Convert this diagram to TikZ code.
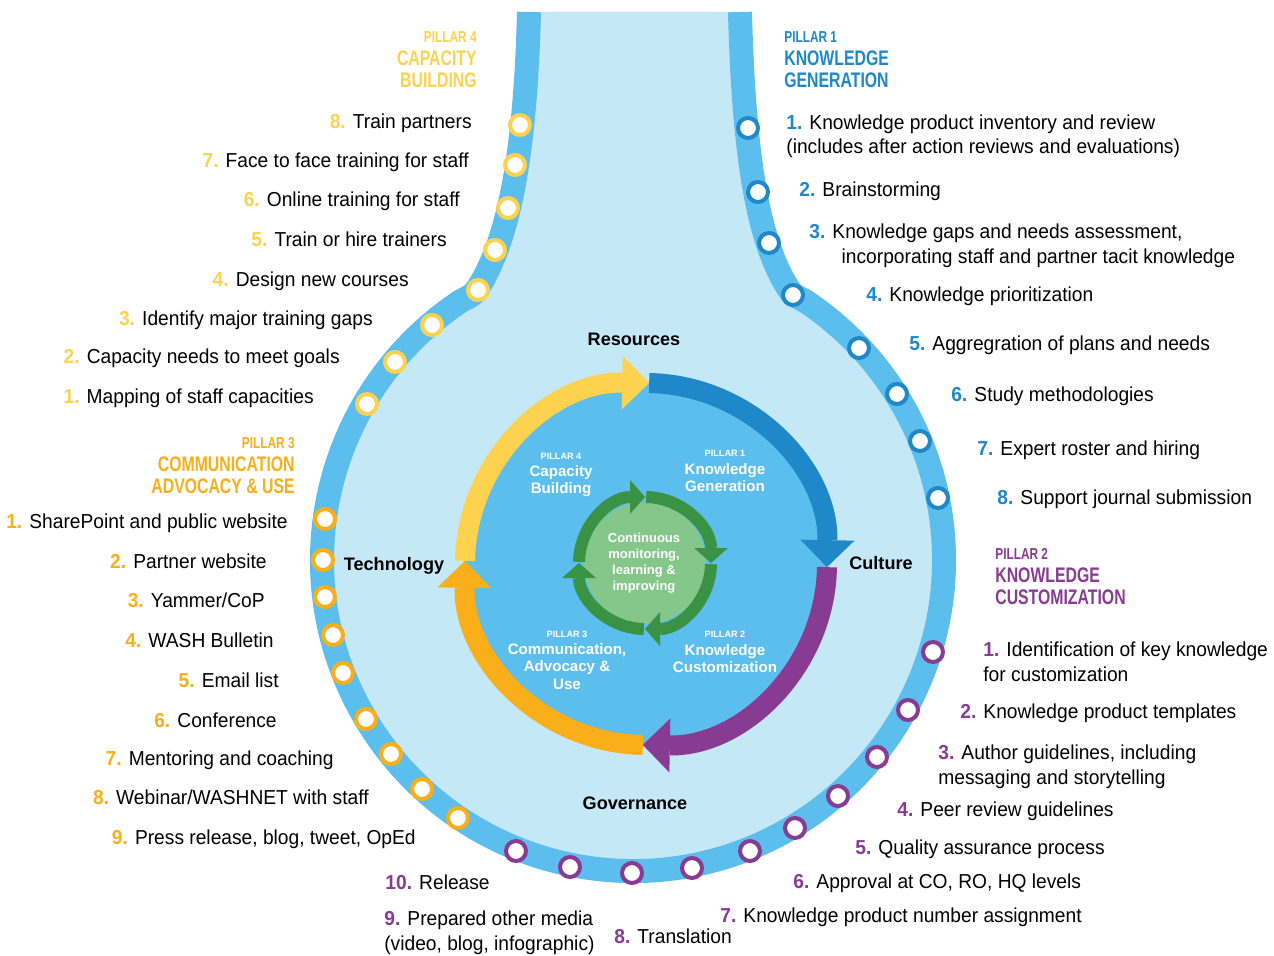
\documentclass[tikz,border=0pt]{standalone}
\usepackage{fontspec}
\setmainfont{Liberation Sans}[FakeStretch=0.95]
\newfontfamily\headfont{Liberation Sans}[FakeStretch=0.75]
\newfontfamily\ringfont{Liberation Sans}
\usetikzlibrary{arrows.meta}

\definecolor{tube}{RGB}{91,190,236}
\definecolor{inside}{RGB}{197,232,247}
\definecolor{kgblue}{RGB}{30,136,201}
\definecolor{cbyellow}{RGB}{253,210,78}
\definecolor{caorange}{RGB}{249,174,26}
\definecolor{kcpurple}{RGB}{135,59,146}
\definecolor{loopgreen}{RGB}{58,147,69}
\definecolor{loopfill}{RGB}{133,198,138}

\newcommand{\listno}[2]{\textcolor{#1}{\textbf{#2}}}

\tikzstyle{item} = [inner sep=0pt, align=left, font=\fontsize{11.5}{14.2}\selectfont]
\tikzstyle{head} = [inner sep=0pt, font=\headfont\bfseries\fontsize{12}{12.8}\selectfont]
\tikzstyle{station} = [circle, draw, fill=white, line width=0.08cm, minimum size=0.4cm, inner sep=0pt]
\tikzstyle{enabler} = [inner sep=0pt, font=\ringfont\bfseries\fontsize{10.3}{12}\selectfont]
\tikzstyle{pillar} = [inner sep=0pt, text=white, align=center, font=\ringfont\bfseries\fontsize{8.6}{9.9}\selectfont]
\tikzstyle{ring} = [line width=0.4cm, -{Triangle[length=0.54cm, width=1.08cm, line width=0pt]}]
\tikzstyle{loop} = [line width=0.24cm, loopgreen, -{Triangle[length=0.3cm, width=0.68cm, line width=0pt]}]

\begin{document}
\begin{tikzpicture}[x=0.02cm, y=-0.02cm]
    \useasboundingbox (0,0) rectangle (1274,956);
    \fill[white] (0,0) rectangle (1274,956);

    % Flask
    \fill[inside] (529,12) .. controls (525,170) and (505,245) .. (478,288)
        .. controls (472,297.5) and (466,297.5) .. (459.1,302.2)
        arc[start angle=236, end angle=-56, radius=311]
        .. controls (800,297.5) and (794,297.5) .. (788,288)
        .. controls (761,245) and (744,170) .. (740,12) -- cycle;
    \draw[tube, line width=0.48cm] (529,12) .. controls (525,170) and (505,245) .. (478,288)
        .. controls (472,297.5) and (466,297.5) .. (459.1,302.2)
        arc[start angle=236, end angle=-56, radius=311]
        .. controls (800,297.5) and (794,297.5) .. (788,288)
        .. controls (761,245) and (744,170) .. (740,12);

    % Stations
    \node (cbst1) [station, draw=cbyellow] at (367,404) {};
    \node (cbst2) [station, draw=cbyellow] at (395,362) {};
    \node (cbst3) [station, draw=cbyellow] at (432,325) {};
    \node (cbst4) [station, draw=cbyellow] at (478,290) {};
    \node (cbst5) [station, draw=cbyellow] at (495,250) {};
    \node (cbst6) [station, draw=cbyellow] at (508,208) {};
    \node (cbst7) [station, draw=cbyellow] at (515,165) {};
    \node (cbst8) [station, draw=cbyellow] at (520,125) {};

    \node (cast1) [station, draw=caorange] at (325,519) {};
    \node (cast2) [station, draw=caorange] at (323,560) {};
    \node (cast3) [station, draw=caorange] at (325,597) {};
    \node (cast4) [station, draw=caorange] at (333,635) {};
    \node (cast5) [station, draw=caorange] at (343,673) {};
    \node (cast6) [station, draw=caorange] at (366,719) {};
    \node (cast7) [station, draw=caorange] at (391,754) {};
    \node (cast8) [station, draw=caorange] at (422,789) {};
    \node (cast9) [station, draw=caorange] at (458,818) {};

    \node (kcst1) [station, draw=kcpurple] at (933,652) {};
    \node (kcst2) [station, draw=kcpurple] at (908,710) {};
    \node (kcst3) [station, draw=kcpurple] at (877,757) {};
    \node (kcst4) [station, draw=kcpurple] at (838,796) {};
    \node (kcst5) [station, draw=kcpurple] at (795,828) {};
    \node (kcst6) [station, draw=kcpurple] at (750,851) {};
    \node (kcst7) [station, draw=kcpurple] at (692,868) {};
    \node (kcst8) [station, draw=kcpurple] at (632,873) {};
    \node (kcst9) [station, draw=kcpurple] at (570,867) {};
    \node (kcst10) [station, draw=kcpurple] at (516,851) {};

    \node (kgst1) [station, draw=kgblue] at (748,128) {};
    \node (kgst2) [station, draw=kgblue] at (758,192) {};
    \node (kgst3) [station, draw=kgblue] at (769,243) {};
    \node (kgst4) [station, draw=kgblue] at (793,295) {};
    \node (kgst5) [station, draw=kgblue] at (859,348) {};
    \node (kgst6) [station, draw=kgblue] at (897,394) {};
    \node (kgst7) [station, draw=kgblue] at (920,441) {};
    \node (kgst8) [station, draw=kgblue] at (938,498) {};

    % Cycle
    \coordinate (ringc) at (646,564);
    \fill[tube] (ringc) circle (181);
    \draw[ring, cbyellow] (ringc) ++(181:181) arc[start angle=181, end angle=271, radius=181];
    \draw[ring, kgblue] (ringc) ++(271:181) arc[start angle=271, end angle=361, radius=181];
    \draw[ring, kcpurple] (ringc) ++(1:181) arc[start angle=1, end angle=91, radius=181];
    \draw[ring, caorange] (ringc) ++(91:181) arc[start angle=91, end angle=181, radius=181];

    \coordinate (loopc) at (645,563);
    \fill[loopfill] (loopc) circle (61);
    \draw[loop] (loopc) ++(181:66) arc[start angle=181, end angle=270, radius=66];
    \draw[loop] (loopc) ++(271:66) arc[start angle=271, end angle=360, radius=66];
    \draw[loop] (loopc) ++(1:66) arc[start angle=1, end angle=90, radius=66];
    \draw[loop] (loopc) ++(91:66) arc[start angle=91, end angle=180, radius=66];

    % Labels inside
    \node (resources) [enabler] at (634,339) {Resources};
    \node (technology) [enabler] at (394,566) {Technology};
    \node (culture) [enabler] at (881,563) {Culture};
    \node (governance) [enabler] at (635,803) {Governance};

    \node (cbin) [pillar] at (561,475) {{\fontsize{5.2}{6}\selectfont PILLAR 4}\\Capacity\\Building};
    \node (kgin) [pillar] at (725,471) {{\fontsize{5.2}{6}\selectfont PILLAR 1}\\Knowledge\\Generation};
    \node (cain) [pillar] at (567,660) {{\fontsize{5.2}{6}\selectfont PILLAR 3}\\Communication,\\Advocacy \&\\Use};
    \node (kcin) [pillar] at (725,652) {{\fontsize{5.2}{6}\selectfont PILLAR 2}\\Knowledge\\Customization};
    \node (looptext) [inner sep=0pt, text=white, align=center, font=\ringfont\bfseries\fontsize{7.4}{9}\selectfont] at (644,563) {Continuous\\monitoring,\\learning \&\\improving};

    % Pillar 4
    \node (cbhead) [head, text=cbyellow, align=right, anchor=base east] at (477,87.5) {{\fontsize{9}{12.8}\selectfont PILLAR 4}\\CAPACITY\\BUILDING};
    \node (cb8) [item, anchor=base east] at (472,129) {\listno{cbyellow}{8.} Train partners};
    \node (cb7) [item, anchor=base east] at (469,168) {\listno{cbyellow}{7.} Face to face training for staff};
    \node (cb6) [item, anchor=base east] at (460,207) {\listno{cbyellow}{6.} Online training for staff};
    \node (cb5) [item, anchor=base east] at (447,247) {\listno{cbyellow}{5.} Train or hire trainers};
    \node (cb4) [item, anchor=base east] at (409,286) {\listno{cbyellow}{4.} Design new courses};
    \node (cb3) [item, anchor=base east] at (373,325) {\listno{cbyellow}{3.} Identify major training gaps};
    \node (cb2) [item, anchor=base east] at (340,363) {\listno{cbyellow}{2.} Capacity needs to meet goals};
    \node (cb1) [item, anchor=base east] at (314,403) {\listno{cbyellow}{1.} Mapping of staff capacities};

    % Pillar 3
    \node (cahead) [head, text=caorange, align=right, anchor=base east] at (295,493.5) {{\fontsize{9}{12.8}\selectfont PILLAR 3}\\COMMUNICATION\\ADVOCACY \& USE};
    \node (ca1) [item, anchor=base east] at (288,528) {\listno{caorange}{1.} SharePoint and public website};
    \node (ca2) [item, anchor=base east] at (267,568) {\listno{caorange}{2.} Partner website};
    \node (ca3) [item, anchor=base east] at (265,607) {\listno{caorange}{3.} Yammer/CoP};
    \node (ca4) [item, anchor=base east] at (274,647) {\listno{caorange}{4.} WASH Bulletin};
    \node (ca5) [item, anchor=base east] at (279,687) {\listno{caorange}{5.} Email list};
    \node (ca6) [item, anchor=base east] at (277,727) {\listno{caorange}{6.} Conference};
    \node (ca7) [item, anchor=base east] at (334,765) {\listno{caorange}{7.} Mentoring and coaching};
    \node (ca8) [item, anchor=base east] at (369,804) {\listno{caorange}{8.} Webinar/WASHNET with staff};
    \node (ca9) [item, anchor=base east] at (416,844) {\listno{caorange}{9.} Press release, blog, tweet, OpEd};

    % Pillar 1
    \node (kghead) [head, text=kgblue, align=left, anchor=base west] at (784,87.5) {{\fontsize{9}{12.8}\selectfont PILLAR 1}\\KNOWLEDGE\\GENERATION};
    \node (kg1) [item, anchor=base west] at (786,154) {\listno{kgblue}{1.} Knowledge product inventory and review\\(includes after action reviews and evaluations)};
    \node (kg2) [item, anchor=base west] at (799,197) {\listno{kgblue}{2.} Brainstorming};
    \node (kg3) [item, anchor=base west] at (809,263) {\listno{kgblue}{3.} Knowledge gaps and needs assessment,\\\hspace*{1.6em}incorporating staff and partner tacit knowledge};
    \node (kg4) [item, anchor=base west] at (866,301) {\listno{kgblue}{4.} Knowledge prioritization};
    \node (kg5) [item, anchor=base west] at (909,350) {\listno{kgblue}{5.} Aggregration of plans and needs};
    \node (kg6) [item, anchor=base west] at (951,401) {\listno{kgblue}{6.} Study methodologies};
    \node (kg7) [item, anchor=base west] at (977,455) {\listno{kgblue}{7.} Expert roster and hiring};
    \node (kg8) [item, anchor=base west] at (997,504) {\listno{kgblue}{8.} Support journal submission};

    % Pillar 2
    \node (kchead) [head, text=kcpurple, align=left, anchor=base west] at (995,604.5) {{\fontsize{9}{12.8}\selectfont PILLAR 2}\\KNOWLEDGE\\CUSTOMIZATION};
    \node (kc1) [item, anchor=base west] at (983,681) {\listno{kcpurple}{1.} Identification of key knowledge\\for customization};
    \node (kc2) [item, anchor=base west] at (960,718) {\listno{kcpurple}{2.} Knowledge product templates};
    \node (kc3) [item, anchor=base west] at (938,784) {\listno{kcpurple}{3.} Author guidelines, including\\messaging and storytelling};
    \node (kc4) [item, anchor=base west] at (897,816) {\listno{kcpurple}{4.} Peer review guidelines};
    \node (kc5) [item, anchor=base west] at (855,854) {\listno{kcpurple}{5.} Quality assurance process};
    \node (kc6) [item, anchor=base west] at (793,888) {\listno{kcpurple}{6.} Approval at CO, RO, HQ levels};
    \node (kc7) [item, anchor=base west] at (720,922) {\listno{kcpurple}{7.} Knowledge product number assignment};
    \node (kc8) [item, anchor=base west] at (614,943) {\listno{kcpurple}{8.} Translation};
    \node (kc9) [item, anchor=base west] at (384,950) {\listno{kcpurple}{9.} Prepared other media\\(video, blog, infographic)};
    \node (kc10) [item, anchor=base east] at (490,889) {\listno{kcpurple}{10.} Release};

\end{tikzpicture}
\end{document}
